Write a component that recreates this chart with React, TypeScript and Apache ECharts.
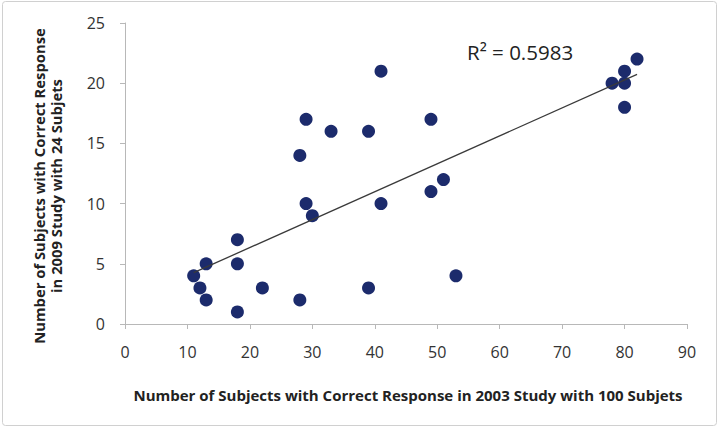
import React, { useEffect, useRef } from "react";
import * as echarts from "echarts";

// 2003 study (x) vs 2009 study (y): subjects with a correct response
const xValues = [11, 12, 13, 13, 18, 18, 18, 22, 28, 28, 29, 29, 30, 33, 39, 39, 41, 41, 49, 49, 51, 53, 78, 80, 80, 80, 82];
const yValues = [4, 3, 5, 2, 7, 5, 1, 3, 14, 2, 17, 10, 9, 16, 16, 3, 21, 10, 17, 11, 12, 4, 20, 21, 20, 18, 22];

const xTicks = [0, 10, 20, 30, 40, 50, 60, 70, 80, 90];
const yTicks = [0, 5, 10, 15, 20, 25];

const xTitle = "Number of Subjects with Correct Response in 2003 Study with 100 Subjets";
const yTitle = "Number of Subjects with Correct Response\nin 2009 Study with 24 Subjets";
const rSquaredLabel = "R\u00B2 = 0.5983";

const FONT = "'Open Sans', Lato, sans-serif";

// least-squares fit spanning the observed x range
function linearFit(xs: number[], ys: number[]) {
  const n = xs.length;
  const mx = xs.reduce((a, b) => a + b, 0) / n;
  const my = ys.reduce((a, b) => a + b, 0) / n;
  let sxy = 0;
  let sxx = 0;
  for (let i = 0; i < n; i++) {
    sxy += (xs[i] - mx) * (ys[i] - my);
    sxx += (xs[i] - mx) * (xs[i] - mx);
  }
  const slope = sxy / sxx;
  const intercept = my - slope * mx;
  const x0 = Math.min(...xs);
  const x1 = Math.max(...xs);
  return [
    [x0, intercept + slope * x0],
    [x1, intercept + slope * x1],
  ];
}

export default function App() {
  const ref = useRef<HTMLDivElement>(null);

  useEffect(() => {
    if (!ref.current) return;
    const chart = echarts.init(ref.current, null, { renderer: "svg" });
    const points = xValues.map((x, i) => [x, yValues[i]]);
    const trend = linearFit(xValues, yValues);

    chart.setOption({
      animation: false,
      backgroundColor: "#ffffff",
      grid: { left: 125, top: 23, width: 562, height: 301 },
      xAxis: {
        type: "value",
        min: xTicks[0],
        max: xTicks[xTicks.length - 1],
        interval: 10,
        splitLine: { show: false },
        axisLine: { show: true, lineStyle: { color: "#b8b8b8", width: 1 } },
        axisTick: { show: true, length: 5, lineStyle: { color: "#b8b8b8" } },
        axisLabel: { color: "#333", fontSize: 16, fontFamily: FONT, margin: 20 },
      },
      yAxis: {
        type: "value",
        min: yTicks[0],
        max: yTicks[yTicks.length - 1],
        interval: 5,
        splitLine: { show: false },
        axisLine: { show: true, lineStyle: { color: "#b8b8b8", width: 1 } },
        axisTick: { show: true, length: 5, lineStyle: { color: "#b8b8b8" } },
        axisLabel: { color: "#333", fontSize: 16, fontFamily: FONT, margin: 20 },
      },
      series: [
        {
          type: "line",
          data: trend,
          symbol: "none",
          lineStyle: { color: "#3a3a3a", width: 1.3 },
          z: 3,
        },
        {
          type: "scatter",
          data: points,
          symbol: "circle",
          symbolSize: 13,
          itemStyle: { color: "#1c2b6c", opacity: 1 },
          z: 2,
        },
      ],
      graphic: [
        {
          type: "rect",
          shape: { x: 2.5, y: 1.5, width: 714, height: 424, r: 3 },
          style: { fill: "none", stroke: "#d0d0d0", lineWidth: 1 },
          silent: true,
        },
        {
          type: "text",
          x: 467,
          y: 52,
          style: {
            text: rSquaredLabel,
            fontFamily: FONT,
            fontSize: 20.5,
            fill: "#222",
            verticalAlign: "middle",
          },
        },
        {
          type: "text",
          x: 408,
          y: 395,
          style: {
            text: xTitle,
            fontFamily: FONT,
            fontSize: 15,
            fontWeight: "bold",
            fill: "#222",
            align: "center",
            verticalAlign: "middle",
          },
        },
        {
          type: "text",
          x: 47,
          y: 186,
          rotation: Math.PI / 2,
          style: {
            text: yTitle,
            fontFamily: FONT,
            fontSize: 14.8,
            fontWeight: "bold",
            fill: "#222",
            align: "center",
            verticalAlign: "middle",
            lineHeight: 17,
          },
        },
      ],
    });

    return () => chart.dispose();
  }, []);

  return (
    <div
      ref={ref}
      style={{ position: "fixed", left: 0, top: 0, width: 719, height: 428 }}
    />
  );
}
